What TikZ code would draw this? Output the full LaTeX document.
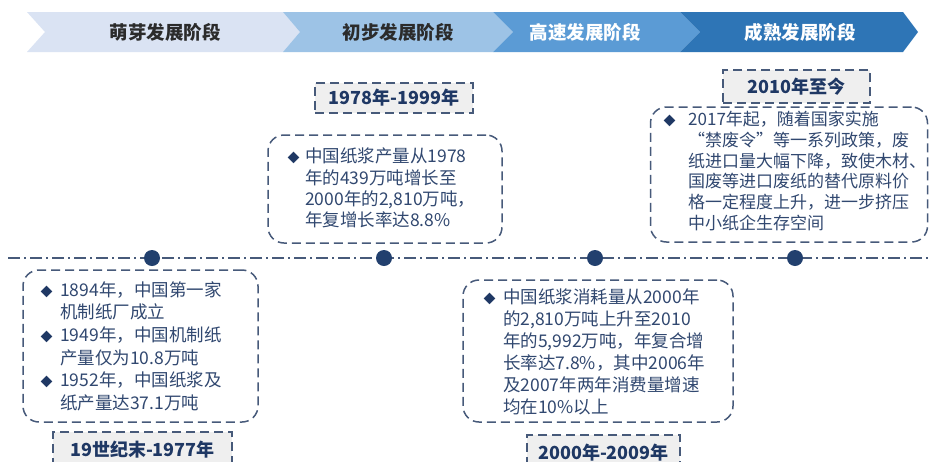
\documentclass[tikz,border=0pt]{standalone}
\usepackage{fontspec}
\setmainfont{Noto Sans CJK SC}
\definecolor{cA}{HTML}{DAE3F3}
\definecolor{cB}{HTML}{9DC3E6}
\definecolor{cC}{HTML}{5B9BD5}
\definecolor{cD}{HTML}{2E75B6}
\definecolor{boxc}{HTML}{475A7A}
\definecolor{txtc}{HTML}{314870}
\definecolor{bulc}{HTML}{1F3864}
\definecolor{labc}{HTML}{1F3864}
\definecolor{labfill}{HTML}{EFEFEF}
\definecolor{dotc}{HTML}{22406E}
\definecolor{stagedark}{HTML}{2B2B2B}
\newcommand\mybul[1]{\makebox[#1][l]{\textcolor{bulc}{\fontsize{12}{12}\selectfont ◆}}}
\begin{document}
\begin{tikzpicture}[x=1pt,y=-1pt,
  stagetxt/.style={font=\fontsize{18.5}{20}\selectfont\bfseries, inner sep=0},
  dot/.style={circle, fill=dotc, minimum size=16pt, inner sep=0},
  infobox/.style={draw=boxc, line width=1.5pt, dash pattern=on 9pt off 5pt, rounded corners=16pt, inner sep=0},
  datebox/.style={draw=boxc, fill=labfill, line width=1.5pt, dash pattern=on 9pt off 5pt, inner sep=0, font=\fontsize{18}{20}\selectfont\bfseries, text=labc},
  bodytxt/.style={anchor=north west, inner sep=0, text=txtc, align=left},
  tline/.style={draw=boxc, line width=1.5pt, dash pattern=on 12pt off 4pt on 2pt off 4pt}
]
\useasboundingbox (0,0) rectangle (931,461);
\clip (0,0) rectangle (931,461);
\fill[white] (0,0) rectangle (931,461);

% stage chevrons
\fill[cA] (27,12) -- (283,12) -- (300,32) -- (283,52) -- (27,52) -- (45,32) -- cycle;
\fill[cB] (283,12) -- (493,12) -- (513,32) -- (493,52) -- (283,52) -- (300,32) -- cycle;
\fill[cC] (493,12) -- (680,12) -- (700,32) -- (680,52) -- (493,52) -- (513,32) -- cycle;
\fill[cD] (680,12) -- (903,12) -- (918,32) -- (903,52) -- (680,52) -- (700,32) -- cycle;
\node[stagetxt, text=stagedark] (s1) at (165,32) {萌芽发展阶段};
\node[stagetxt, text=stagedark] (s2) at (398,32) {初步发展阶段};
\node[stagetxt, text=white] (s3) at (585,32) {高速发展阶段};
\node[stagetxt, text=white] (s4) at (800,32) {成熟发展阶段};

% timeline
\coordinate (tl0) at (8,258);
\coordinate (tl1) at (931,258);
\draw[tline] (tl0) -- (tl1);
\node[dot] (d1) at (152,258) {};
\node[dot] (d2) at (384,258) {};
\node[dot] (d3) at (595,258) {};
\node[dot] (d4) at (795,258) {};

% boxes
\node[infobox, minimum width=235pt, minimum height=152pt] (b1) at (140.5,346) {};
\node[infobox, minimum width=234pt, minimum height=108pt] (b2) at (385,189) {};
\node[infobox, minimum width=270pt, minimum height=142pt] (b3) at (598,351) {};
\node[infobox, minimum width=277pt, minimum height=135pt] (b4) at (789,174.5) {};

% labels
\node[datebox, minimum width=179pt, minimum height=36pt] (l1) at (142.5,450) {19世纪末-1977年};
\node[datebox, minimum width=158pt, minimum height=30pt] (l2) at (394,98) {1978年-1999年};
\node[datebox, minimum width=153pt, minimum height=36pt] (l3) at (603.5,453) {2000年-2009年};
\node[datebox, minimum width=147pt, minimum height=33pt] (l4) at (796.5,86.5) {2010年至今};

% texts
\node[bodytxt, font=\fontsize{17.5}{22.7}\selectfont] (t1) at (40.5,280) {%
\begin{tabular}{@{}l@{}l@{}}
\mybul{19.5pt} & 1894年，中国第一家\\
 & 机制纸厂成立\\
\mybul{19.5pt} & 1949年，中国机制纸\\
 & 产量仅为10.8万吨\\
\mybul{19.5pt} & 1952年，中国纸浆及\\
 & 纸产量达37.1万吨
\end{tabular}};
\node[bodytxt, font=\fontsize{17.5}{21}\selectfont] (t2) at (287.5,148) {%
\begin{tabular}{@{}l@{}l@{}}
\mybul{17.5pt} & 中国纸浆产量从1978\\
 & 年的439万吨增长至\\
 & 2000年的2,810万吨，\\
 & 年复增长率达8.8\%
\end{tabular}};
\node[bodytxt, font=\fontsize{17.5}{21.9}\selectfont] (t3) at (483.5,288) {%
\begin{tabular}{@{}l@{}l@{}}
\mybul{19.5pt} & 中国纸浆消耗量从2000年\\
 & 的2,810万吨上升至2010\\
 & 年的5,992万吨，年复合增\\
 & 长率达7.8\%，其中2006年\\
 & 及2007年两年消费量增速\\
 & 均在10\%以上
\end{tabular}};
\node[bodytxt, font=\fontsize{17}{20.7}\selectfont] (t4) at (663.5,111) {%
\begin{tabular}{@{}l@{}l@{}}
\mybul{24.5pt} & 2017年起，随着国家实施\\
 & “禁废令”等一系列政策，废\\
 & 纸进口量大幅下降，致使木材、\\
 & 国废等进口废纸的替代原料价\\
 & 格一定程度上升，进一步挤压\\
 & 中小纸企生存空间
\end{tabular}};
\end{tikzpicture}
\end{document}
